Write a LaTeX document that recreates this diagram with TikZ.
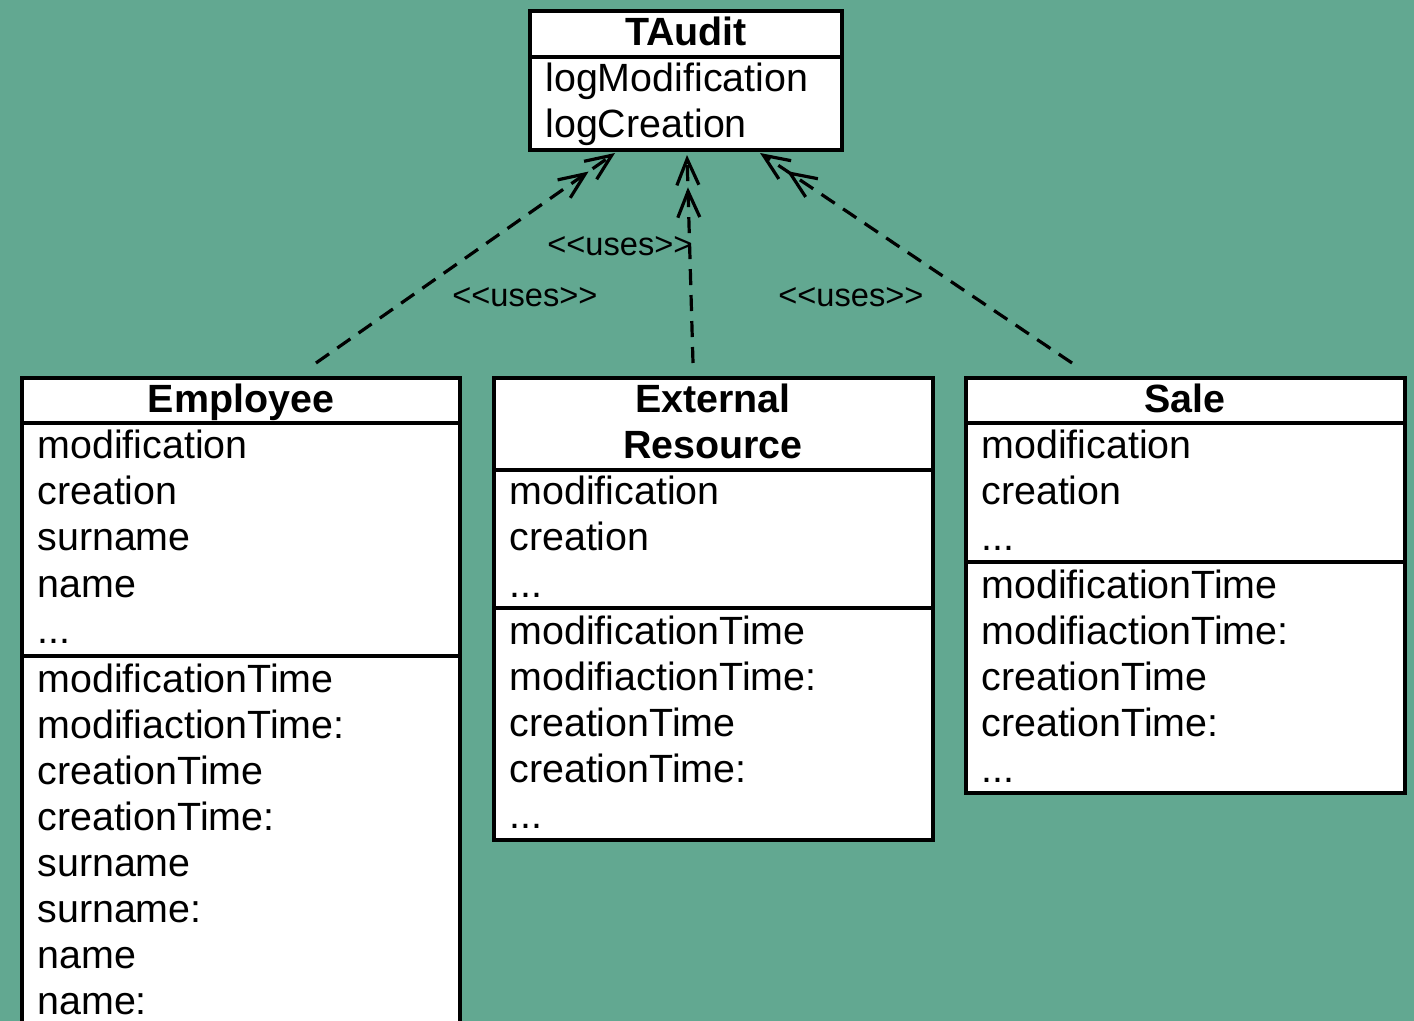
\documentclass[tikz,border=0pt]{standalone}
\usepackage{fontspec}
\setmainfont{Liberation Sans}
\usetikzlibrary{arrows.meta,calc,fit}

\definecolor{board}{RGB}{98,168,145}

\tikzset{
  classbox/.style={draw=black, fill=white, line width=1.7pt, inner sep=0pt, outer sep=0pt},
  attr/.style={anchor=base west, inner sep=0pt, font=\fontsize{19.7}{23}\selectfont},
  ctitle/.style={anchor=base, inner sep=0pt, font=\fontsize{19.7}{23}\selectfont\bfseries},
  sepline/.style={line width=1.7pt},
  stereo/.style={anchor=base west, inner sep=0pt, font=\fontsize{16.3}{19}\selectfont},
  uses/.style={draw, line width=1.6pt, dash pattern=on 8pt off 5pt,
    -{Straight Barb[length=13pt,width=11pt,sep=0.3pt]Straight Barb[length=13pt,width=11pt]}}
}

\begin{document}
\begin{tikzpicture}[x=0.5pt, y=-0.5pt]
  % page and background
  \clip (0,0) rectangle (1414,1021);
  \fill[board] (0,0) rectangle (1414,1021);

  % TAudit
  \node[classbox, fit={(530,11) (842,150)}] (taudit) {};
  \draw[sepline] (taudit.west |- 0,57) -- (taudit.east |- 0,57);
  \node[ctitle] (taudit-t) at (686,46) {TAudit};
  \node[attr] (taudit-a1) at (545,92) {logModification};
  \node[attr] (taudit-a2) at (545,138) {logCreation};

  % Employee
  \node[classbox, fit={(22,378) (460,1045)}] (emp) {};
  \draw[sepline] (emp.west |- 0,423) -- (emp.east |- 0,423);
  \draw[sepline] (emp.west |- 0,656) -- (emp.east |- 0,656);
  \node[ctitle] (emp-t) at (241,413) {Employee};
  \node[attr] (emp-a1) at (37,459) {modification};
  \node[attr] (emp-a2) at (37,505) {creation};
  \node[attr] (emp-a3) at (37,551) {surname};
  \node[attr] (emp-a4) at (37,597) {name};
  \node[attr] (emp-a5) at (37,643) {...};
  \node[attr] (emp-m1) at (37,692) {modificationTime};
  \node[attr] (emp-m2) at (37,738) {modifiactionTime:};
  \node[attr] (emp-m3) at (37,784) {creationTime};
  \node[attr] (emp-m4) at (37,830) {creationTime:};
  \node[attr] (emp-m5) at (37,876) {surname};
  \node[attr] (emp-m6) at (37,922) {surname:};
  \node[attr] (emp-m7) at (37,968) {name};
  \node[attr] (emp-m8) at (37,1014) {name:};

  % External Resource
  \node[classbox, fit={(494,378) (933,840)}] (ext) {};
  \draw[sepline] (ext.west |- 0,470) -- (ext.east |- 0,470);
  \draw[sepline] (ext.west |- 0,608) -- (ext.east |- 0,608);
  \node[ctitle] (ext-t1) at (713,413) {External};
  \node[ctitle] (ext-t2) at (713,459) {Resource};
  \node[attr] (ext-a1) at (509,505) {modification};
  \node[attr] (ext-a2) at (509,551) {creation};
  \node[attr] (ext-a3) at (509,597) {...};
  \node[attr] (ext-m1) at (509,644) {modificationTime};
  \node[attr] (ext-m2) at (509,690) {modifiactionTime:};
  \node[attr] (ext-m3) at (509,736) {creationTime};
  \node[attr] (ext-m4) at (509,782) {creationTime:};
  \node[attr] (ext-m5) at (509,828) {...};

  % Sale
  \node[classbox, fit={(966,378) (1405,793)}] (sale) {};
  \draw[sepline] (sale.west |- 0,423) -- (sale.east |- 0,423);
  \draw[sepline] (sale.west |- 0,562) -- (sale.east |- 0,562);
  \node[ctitle] (sale-t) at (1185,413) {Sale};
  \node[attr] (sale-a1) at (981,459) {modification};
  \node[attr] (sale-a2) at (981,505) {creation};
  \node[attr] (sale-a3) at (981,551) {...};
  \node[attr] (sale-m1) at (981,598) {modificationTime};
  \node[attr] (sale-m2) at (981,644) {modifiactionTime:};
  \node[attr] (sale-m3) at (981,690) {creationTime};
  \node[attr] (sale-m4) at (981,736) {creationTime:};
  \node[attr] (sale-m5) at (981,782) {...};

  % stereotype labels (braces keep the angle brackets from ligaturing)
  \node[stereo] (lbl-ext) at (547,256) {<{}<uses>{}>};
  \node[stereo] (lbl-emp) at (452,307) {<{}<uses>{}>};
  \node[stereo] (lbl-sale) at (778,307) {<{}<uses>{}>};

  % dependencies
  \draw[uses] ($(emp.north west)+(294,-15)$) -- ($(taudit.south west)+(85,3)$);
  \draw[uses] ($(ext.north west)+(199,-15)$) -- ($(taudit.south west)+(157,5)$);
  \draw[uses] ($(sale.north west)+(106,-15)$) -- ($(taudit.south west)+(230,3)$);
\end{tikzpicture}
\end{document}
